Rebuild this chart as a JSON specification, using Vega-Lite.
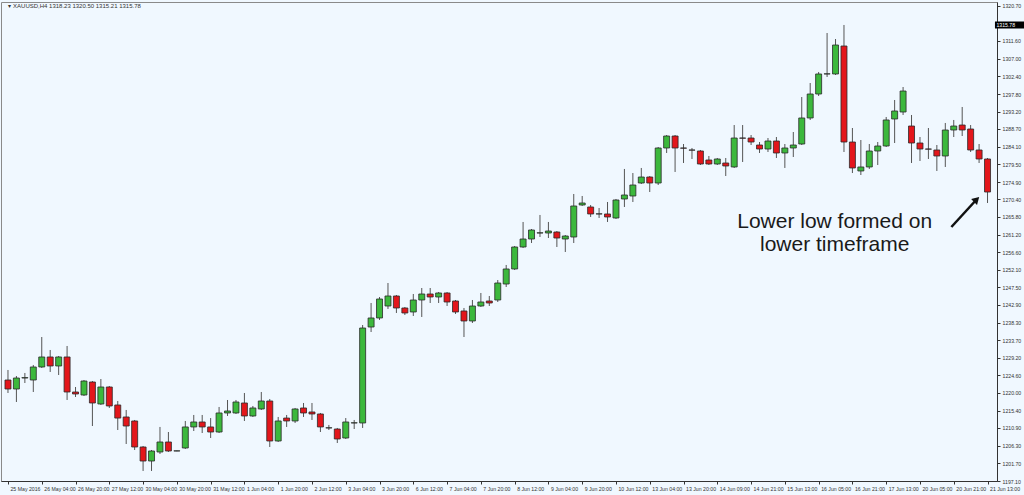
{
  "$schema": "https://vega.github.io/schema/vega-lite/v6.json",
  "width": 996,
  "height": 479,
  "autosize": {"type": "none"},
  "padding": {"left": 1, "top": 2, "right": 27, "bottom": 14},
  "background": "#F0F8FF",
  "config": {
    "view": {"stroke": "#8a8a8a", "strokeWidth": 1, "fill": "#F0F8FF"},
    "axis": {"grid": false, "labelFont": "Liberation Sans", "labelFontSize": 5.2, "labelColor": "#333333", "domainColor": "#333333", "tickColor": "#333333", "tickSize": 3, "labelOverlap": false}
  },
  "datasets": {
    "candles": [
      {"i":0,"o":1223.38,"h":1225.99,"l":1220.00,"c":1221.04},
      {"i":1,"o":1221.04,"h":1224.42,"l":1217.66,"c":1223.90},
      {"i":2,"o":1223.90,"h":1225.21,"l":1222.60,"c":1224.00},
      {"i":3,"o":1223.38,"h":1227.29,"l":1220.26,"c":1226.77},
      {"i":4,"o":1226.77,"h":1234.57,"l":1226.51,"c":1229.37},
      {"i":5,"o":1229.37,"h":1231.19,"l":1225.47,"c":1227.03},
      {"i":6,"o":1227.03,"h":1229.63,"l":1224.68,"c":1229.37},
      {"i":7,"o":1229.37,"h":1232.23,"l":1218.18,"c":1220.26},
      {"i":8,"o":1220.26,"h":1221.56,"l":1218.96,"c":1219.74},
      {"i":9,"o":1219.48,"h":1223.38,"l":1219.22,"c":1223.12},
      {"i":10,"o":1222.86,"h":1223.12,"l":1211.41,"c":1217.40},
      {"i":11,"o":1217.14,"h":1223.64,"l":1216.88,"c":1221.56},
      {"i":12,"o":1221.56,"h":1221.82,"l":1216.10,"c":1216.62},
      {"i":13,"o":1216.88,"h":1217.92,"l":1210.37,"c":1213.48},
      {"i":14,"o":1213.76,"h":1215.58,"l":1206.73,"c":1211.41},
      {"i":15,"o":1212.72,"h":1212.98,"l":1205.17,"c":1205.95},
      {"i":16,"o":1205.95,"h":1206.21,"l":1199.71,"c":1202.30},
      {"i":17,"o":1202.30,"h":1205.17,"l":1199.71,"c":1204.91},
      {"i":18,"o":1204.65,"h":1211.16,"l":1204.13,"c":1207.25},
      {"i":19,"o":1207.25,"h":1209.85,"l":1204.65,"c":1204.91},
      {"i":20,"o":1204.91,"h":1205.00,"l":1204.85,"c":1204.95},
      {"i":21,"o":1205.69,"h":1212.72,"l":1205.43,"c":1211.16},
      {"i":22,"o":1211.16,"h":1214.28,"l":1210.11,"c":1212.46},
      {"i":23,"o":1212.46,"h":1214.28,"l":1209.59,"c":1211.16},
      {"i":24,"o":1211.16,"h":1213.48,"l":1208.29,"c":1209.85},
      {"i":25,"o":1209.85,"h":1216.36,"l":1209.59,"c":1214.80},
      {"i":26,"o":1214.80,"h":1218.18,"l":1214.02,"c":1215.32},
      {"i":27,"o":1214.80,"h":1218.18,"l":1214.54,"c":1217.66},
      {"i":28,"o":1217.40,"h":1220.00,"l":1212.72,"c":1214.02},
      {"i":29,"o":1214.02,"h":1216.62,"l":1213.76,"c":1216.10},
      {"i":30,"o":1215.84,"h":1220.26,"l":1215.58,"c":1217.92},
      {"i":31,"o":1217.92,"h":1218.44,"l":1205.95,"c":1207.51},
      {"i":32,"o":1207.51,"h":1213.76,"l":1207.25,"c":1212.72},
      {"i":33,"o":1213.48,"h":1214.28,"l":1211.16,"c":1212.72},
      {"i":34,"o":1212.72,"h":1216.10,"l":1212.20,"c":1215.84},
      {"i":35,"o":1216.10,"h":1217.40,"l":1213.76,"c":1214.80},
      {"i":36,"o":1215.06,"h":1217.40,"l":1212.98,"c":1214.54},
      {"i":37,"o":1214.54,"h":1214.80,"l":1209.85,"c":1211.16},
      {"i":38,"o":1210.90,"h":1211.68,"l":1210.37,"c":1210.95},
      {"i":39,"o":1210.63,"h":1210.90,"l":1206.99,"c":1208.03},
      {"i":40,"o":1208.29,"h":1213.48,"l":1208.03,"c":1212.46},
      {"i":41,"o":1212.20,"h":1212.98,"l":1210.63,"c":1212.25},
      {"i":42,"o":1212.20,"h":1237.69,"l":1210.90,"c":1236.91},
      {"i":43,"o":1237.17,"h":1243.42,"l":1235.87,"c":1239.52},
      {"i":44,"o":1239.52,"h":1244.98,"l":1239.00,"c":1244.46},
      {"i":45,"o":1242.64,"h":1248.62,"l":1241.86,"c":1245.24},
      {"i":46,"o":1245.24,"h":1245.50,"l":1240.82,"c":1242.12},
      {"i":47,"o":1242.12,"h":1242.38,"l":1240.30,"c":1240.82},
      {"i":48,"o":1241.08,"h":1245.76,"l":1240.04,"c":1244.20},
      {"i":49,"o":1244.20,"h":1247.32,"l":1239.78,"c":1245.76},
      {"i":50,"o":1245.76,"h":1247.32,"l":1243.42,"c":1244.98},
      {"i":51,"o":1244.98,"h":1246.28,"l":1243.42,"c":1246.02},
      {"i":52,"o":1246.02,"h":1246.28,"l":1242.64,"c":1243.68},
      {"i":53,"o":1243.94,"h":1244.20,"l":1240.56,"c":1241.08},
      {"i":54,"o":1241.34,"h":1242.12,"l":1234.57,"c":1238.74},
      {"i":55,"o":1238.74,"h":1244.20,"l":1238.21,"c":1242.64},
      {"i":56,"o":1242.64,"h":1246.02,"l":1242.38,"c":1243.68},
      {"i":57,"o":1243.94,"h":1245.24,"l":1242.64,"c":1243.42},
      {"i":58,"o":1244.20,"h":1249.40,"l":1243.68,"c":1248.62},
      {"i":59,"o":1248.36,"h":1253.31,"l":1247.58,"c":1252.27},
      {"i":60,"o":1252.27,"h":1258.25,"l":1252.01,"c":1257.99},
      {"i":61,"o":1257.99,"h":1264.50,"l":1257.73,"c":1260.07},
      {"i":62,"o":1260.07,"h":1262.67,"l":1259.03,"c":1262.41},
      {"i":63,"o":1261.63,"h":1266.32,"l":1260.59,"c":1261.68},
      {"i":64,"o":1261.63,"h":1264.50,"l":1260.33,"c":1262.15},
      {"i":65,"o":1261.89,"h":1262.15,"l":1257.99,"c":1260.33},
      {"i":66,"o":1260.07,"h":1261.11,"l":1256.69,"c":1260.85},
      {"i":67,"o":1260.59,"h":1271.78,"l":1259.03,"c":1268.66},
      {"i":68,"o":1268.92,"h":1271.26,"l":1268.66,"c":1269.44},
      {"i":69,"o":1268.40,"h":1268.92,"l":1265.80,"c":1266.58},
      {"i":70,"o":1266.58,"h":1268.14,"l":1265.54,"c":1266.62},
      {"i":71,"o":1266.58,"h":1269.70,"l":1264.50,"c":1265.80},
      {"i":72,"o":1265.54,"h":1270.48,"l":1265.28,"c":1270.22},
      {"i":73,"o":1270.48,"h":1278.29,"l":1268.40,"c":1271.52},
      {"i":74,"o":1271.26,"h":1277.24,"l":1269.70,"c":1274.12},
      {"i":75,"o":1274.64,"h":1278.55,"l":1274.38,"c":1276.20},
      {"i":76,"o":1276.20,"h":1276.46,"l":1272.30,"c":1274.64},
      {"i":77,"o":1274.64,"h":1284.01,"l":1274.12,"c":1283.75},
      {"i":78,"o":1283.75,"h":1287.13,"l":1282.45,"c":1286.87},
      {"i":79,"o":1286.87,"h":1287.13,"l":1277.51,"c":1283.75},
      {"i":80,"o":1283.75,"h":1284.79,"l":1279.85,"c":1283.70},
      {"i":81,"o":1283.23,"h":1283.75,"l":1280.89,"c":1283.19},
      {"i":82,"o":1282.97,"h":1283.23,"l":1279.33,"c":1279.59},
      {"i":83,"o":1280.63,"h":1281.67,"l":1279.33,"c":1279.59},
      {"i":84,"o":1279.59,"h":1281.15,"l":1279.33,"c":1280.89},
      {"i":85,"o":1279.85,"h":1281.15,"l":1276.46,"c":1279.07},
      {"i":86,"o":1278.81,"h":1289.73,"l":1278.55,"c":1286.35},
      {"i":87,"o":1286.35,"h":1289.73,"l":1280.11,"c":1286.30},
      {"i":88,"o":1286.35,"h":1287.13,"l":1284.53,"c":1285.31},
      {"i":89,"o":1284.53,"h":1285.31,"l":1282.45,"c":1283.49},
      {"i":90,"o":1283.49,"h":1286.35,"l":1282.71,"c":1285.57},
      {"i":91,"o":1285.57,"h":1286.61,"l":1281.15,"c":1282.45},
      {"i":92,"o":1282.45,"h":1284.79,"l":1278.55,"c":1283.75},
      {"i":93,"o":1283.75,"h":1287.91,"l":1281.41,"c":1284.53},
      {"i":94,"o":1284.79,"h":1297.02,"l":1284.53,"c":1291.56},
      {"i":95,"o":1291.56,"h":1300.66,"l":1291.04,"c":1297.80},
      {"i":96,"o":1297.80,"h":1303.53,"l":1297.28,"c":1303.01},
      {"i":97,"o":1303.01,"h":1313.67,"l":1302.23,"c":1303.05},
      {"i":98,"o":1303.01,"h":1312.11,"l":1302.75,"c":1310.55},
      {"i":99,"o":1310.29,"h":1315.76,"l":1282.71,"c":1285.31},
      {"i":100,"o":1285.31,"h":1288.95,"l":1277.24,"c":1278.55},
      {"i":101,"o":1277.77,"h":1285.83,"l":1276.72,"c":1278.81},
      {"i":102,"o":1278.81,"h":1284.79,"l":1278.29,"c":1282.97},
      {"i":103,"o":1282.97,"h":1285.31,"l":1279.33,"c":1284.27},
      {"i":104,"o":1284.27,"h":1291.82,"l":1284.01,"c":1291.04},
      {"i":105,"o":1291.30,"h":1296.24,"l":1285.05,"c":1293.38},
      {"i":106,"o":1293.12,"h":1299.62,"l":1292.34,"c":1298.58},
      {"i":107,"o":1289.47,"h":1292.34,"l":1279.85,"c":1285.05},
      {"i":108,"o":1285.05,"h":1286.61,"l":1280.37,"c":1283.49},
      {"i":109,"o":1283.49,"h":1288.95,"l":1280.89,"c":1283.45},
      {"i":110,"o":1283.23,"h":1284.53,"l":1277.77,"c":1281.67},
      {"i":111,"o":1281.67,"h":1290.26,"l":1278.81,"c":1288.43},
      {"i":112,"o":1288.43,"h":1291.04,"l":1286.61,"c":1289.47},
      {"i":113,"o":1289.73,"h":1294.42,"l":1286.87,"c":1288.43},
      {"i":114,"o":1288.69,"h":1289.73,"l":1282.71,"c":1283.23},
      {"i":115,"o":1283.23,"h":1284.79,"l":1279.85,"c":1280.89},
      {"i":116,"o":1280.89,"h":1281.15,"l":1269.44,"c":1272.30}
    ]
  },
  "layer": [
    {
      "data": {"name": "candles"},
      "mark": {"type": "rule", "color": "#555555", "strokeWidth": 1},
      "encoding": {
        "x": {
          "field": "i", "type": "quantitative",
          "scale": {"domain": [-0.234, 116.53], "nice": false, "zero": false},
          "axis": {
            "orient": "bottom",
            "title": null,
            "tickCount": 500,
            "values": [0,4,8,12,16,20,24,28,32,36,40,44,48,52,56,60,64,68,72,76,80,84,88,92,96,100,104,108,112,116],
            "labelExpr": "['25 May 2016','26 May 04:00','26 May 20:00','27 May 12:00','30 May 04:00','30 May 20:00','31 May 12:00','1 Jun 04:00','1 Jun 20:00','2 Jun 12:00','3 Jun 04:00','3 Jun 20:00','6 Jun 12:00','7 Jun 04:00','7 Jun 20:00','8 Jun 12:00','9 Jun 04:00','9 Jun 20:00','10 Jun 12:00','13 Jun 04:00','13 Jun 20:00','14 Jun 09:00','14 Jun 21:00','15 Jun 13:00','16 Jun 05:00','16 Jun 21:00','17 Jun 13:00','20 Jun 05:00','20 Jun 21:00','21 Jun 13:00'][round(datum.value/4)]",
            "labelAlign": "left",
            "labelBaseline": "top",
            "labelOffset": 2,
            "labelPadding": 2,
            "labelOverlap": false,
            "labelBound": false,
            "labelFlush": false
          }
        },
        "y": {
          "field": "l", "type": "quantitative",
          "scale": {"domain": [1197.10, 1321.74], "nice": false, "zero": false},
          "axis": {
            "orient": "right",
            "title": null,
            "tickCount": 500,
            "values": [1320.70,1311.60,1307.00,1302.40,1297.80,1293.20,1288.70,1284.10,1279.50,1274.90,1270.40,1265.80,1261.20,1256.60,1252.10,1247.50,1242.90,1238.30,1233.70,1229.20,1224.60,1220.00,1215.40,1210.90,1206.30,1201.70,1197.10],
            "format": ".2f",
            "labelPadding": 2,
            "labelOverlap": false,
            "labelBound": false,
            "labelFlush": false
          }
        },
        "y2": {"field": "h"}
      }
    },
    {
      "data": {"name": "candles"},
      "mark": {"type": "bar", "size": 6, "stroke": "#2a2a2a", "strokeWidth": 0.8},
      "encoding": {
        "x": {"field": "i", "type": "quantitative"},
        "y": {"field": "o", "type": "quantitative"},
        "y2": {"field": "c"},
        "fill": {"condition": {"test": "datum.c >= datum.o", "value": "#3CB83C"}, "value": "#E3161B"}
      }
    },
    {
      "data": {"values": [{"i": 116.88, "i2": 122, "p": 1316.67, "p2": 1314.84}]},
      "mark": {"type": "rect", "color": "#000000"},
      "encoding": {
        "x": {"field": "i", "type": "quantitative"},
        "x2": {"field": "i2"},
        "y": {"field": "p", "type": "quantitative"},
        "y2": {"field": "p2"}
      }
    },
    {
      "data": {"values": [{"i": 117.05, "p": 1315.78, "t": "1315.78"}]},
      "mark": {"type": "text", "align": "left", "baseline": "middle", "font": "Liberation Sans", "fontSize": 5.2, "color": "#ffffff"},
      "encoding": {
        "x": {"field": "i", "type": "quantitative"},
        "y": {"field": "p", "type": "quantitative"},
        "text": {"field": "t"}
      }
    },
    {
      "data": {"values": [{"i": 0.05, "p": 1320.70, "t": "▾ XAUUSD,H4  1318.23 1320.50 1315.21 1315.78"}]},
      "mark": {"type": "text", "align": "left", "baseline": "middle", "font": "Liberation Sans", "fontSize": 6, "color": "#333333"},
      "encoding": {
        "x": {"field": "i", "type": "quantitative"},
        "y": {"field": "p", "type": "quantitative"},
        "text": {"field": "t"}
      }
    },
    {
      "data": {"values": [{"i": 97.9, "p": 1264.5, "t": "Lower low formed on"}, {"i": 97.9, "p": 1258.5, "t": "lower timeframe"}]},
      "mark": {"type": "text", "align": "center", "baseline": "middle", "font": "Liberation Sans", "fontSize": 21, "color": "#1a1a1a"},
      "encoding": {
        "x": {"field": "i", "type": "quantitative"},
        "y": {"field": "p", "type": "quantitative"},
        "text": {"field": "t"}
      }
    },
    {
      "data": {"values": [{"i": 111.72, "p": 1263.19, "i2": 114.54, "p2": 1269.96}]},
      "mark": {"type": "rule", "color": "#111111", "strokeWidth": 2.5},
      "encoding": {
        "x": {"field": "i", "type": "quantitative"},
        "x2": {"field": "i2"},
        "y": {"field": "p", "type": "quantitative"},
        "y2": {"field": "p2"}
      }
    },
    {
      "data": {"values": [{"i": 114.71, "p": 1270.35}]},
      "mark": {"type": "point", "shape": "triangle-up", "angle": 45, "size": 70, "filled": true, "color": "#111111", "opacity": 1},
      "encoding": {
        "x": {"field": "i", "type": "quantitative"},
        "y": {"field": "p", "type": "quantitative"}
      }
    }
  ]
}
